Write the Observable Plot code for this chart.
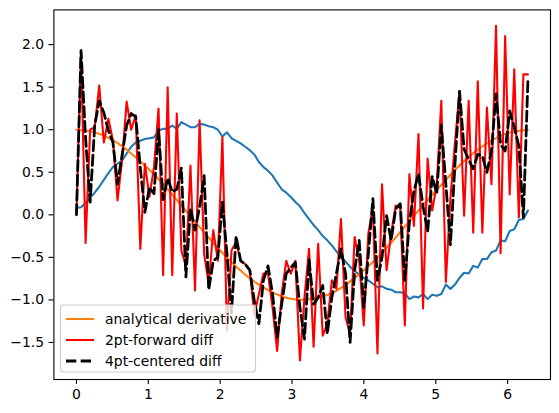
<!DOCTYPE html>
<html><head><meta charset="utf-8">
<script src="https://cdn.jsdelivr.net/npm/d3@7"></script>
<script src="https://cdn.jsdelivr.net/npm/@observablehq/plot@0.6"></script>
<style>body{margin:0;background:#fff} svg{display:block}</style>
</head><body><div id="chart"></div>
<script>
// sample grid: 100 points from 0 to 2π
const N = 100;
const X_MAX = 2 * Math.PI;

// noisy signal (blue)
const signal = [0.08,0.09,0.14,0.2,0.26,0.33,0.41,0.49,0.56,0.6,
0.64,0.72,0.8,0.85,0.87,0.89,0.9,0.91,0.99,1.01,
1.01,1.05,1.01,1.09,1.06,1.03,1.03,1.07,1.06,1.04,
1.03,1.0,0.92,0.97,0.9,0.87,0.84,0.8,0.76,0.71,
0.62,0.56,0.52,0.46,0.38,0.3,0.26,0.21,0.15,0.1,
0.02,-0.05,-0.12,-0.18,-0.25,-0.3,-0.36,-0.43,-0.49,-0.55,
-0.61,-0.66,-0.7,-0.74,-0.77,-0.81,-0.85,-0.84,-0.87,-0.88,
-0.91,-0.91,-0.92,-0.99,-0.96,-0.97,-0.93,-0.99,-0.94,-0.95,
-0.93,-0.82,-0.87,-0.82,-0.74,-0.68,-0.69,-0.6,-0.62,-0.52,
-0.52,-0.44,-0.42,-0.3,-0.31,-0.19,-0.17,-0.06,-0.05,0.05];

// 2pt forward difference (red)
const forward2 = [0.02,1.92,-0.33,1.0,1.03,1.52,0.85,1.13,0.87,0.17,
0.64,1.33,1.0,1.17,-0.4,0.6,0.21,0.56,1.25,-0.71,
1.5,-0.71,1.19,-0.42,-0.6,0.58,-0.89,1.11,-0.46,-0.81,
-0.18,-0.54,0.91,-1.36,-0.42,-0.32,-0.54,-0.58,-0.65,-1.18,
-0.93,-0.69,-0.69,-1.09,-1.6,-0.93,-0.54,-0.69,-0.54,-1.71,
-0.97,-0.4,-1.55,-0.34,-1.42,-1.28,-0.77,-0.87,-0.05,-1.2,
-1.4,-0.26,-0.54,-1.3,-0.22,0.09,-1.63,0.36,-0.65,-0.22,
0.11,0.09,-1.3,0.48,-0.13,0.95,-1.1,0.66,0.05,0.35,
1.34,-0.79,0.2,0.85,1.45,-0.01,1.34,-0.21,1.57,-0.21,
1.26,0.36,2.22,-0.45,2.1,0.24,1.71,-0.03,1.65,1.65];

// 4pt centered difference (black dashed)
const centered4 = [0.0,1.93,0.9,0.15,1.05,1.34,1.2,0.99,0.85,0.36,
0.7,1.05,1.19,1.15,0.55,0.03,0.32,0.25,1.0,0.18,
0.43,0.27,0.3,0.55,-0.73,0.08,-0.18,0.09,0.46,-0.88,
-0.54,-0.5,0.15,-0.46,-1.15,-0.25,-0.54,-0.58,-0.65,-1.01,
-1.28,-0.77,-0.6,-0.93,-1.44,-1.05,-0.69,-0.62,-0.56,-1.09,
-1.46,-0.53,-1.05,-0.97,-0.83,-1.4,-0.97,-0.69,-0.4,-0.69,
-1.5,-0.65,-0.3,-1.09,-0.46,0.19,-0.77,-0.5,-0.01,-0.3,
0.07,0.13,-0.77,-0.09,0.28,0.48,0.1,-0.2,0.45,0.25,
1.05,0.36,-0.35,0.6,1.45,0.77,0.65,0.54,0.71,0.69,
0.5,0.75,1.42,0.83,0.75,1.22,1.03,0.81,-0.03,1.6];

// analytical derivative (orange)
const analyticX = [0,0.25,0.5,0.75,1.0,1.25,1.5,1.75,2.0,2.25,2.5,2.75,3.0,3.25,3.5,3.75,4.0,4.25,4.5,4.75,5.0,5.25,5.5,5.75,6.0,6.28];
const analyticY = [1.0,0.97,0.88,0.73,0.54,0.32,0.07,-0.18,-0.42,-0.63,-0.8,-0.92,-0.99,-0.99,-0.94,-0.82,-0.65,-0.45,-0.21,0.04,0.28,0.51,0.71,0.86,0.96,1.0];

const xTicks = [0,1,2,3,4,5,6];
const yTicks = [-1.5,-1.0,-0.5,0.0,0.5,1.0,1.5,2.0];
const legendLabels = ["analytical derivative","2pt-forward diff","4pt-centered diff"];
const colors = {signal:"#1f77b4", analytic:"#ff7f0e", forward:"#ff0000", centered:"#000000"};

const LW = 2.08;          // 1.5pt at 100 dpi
const LW_DASH = 2.78;     // 2pt
const DASH = "10.3,4.4";

const xs = d3.range(N).map(i => i * X_MAX / (N - 1));
const toRows = ys => ys.map((y, i) => ({x: xs[i], y}));
const analyticRows = analyticX.map((x, i) => ({x, y: analyticY[i]}));

const plot = Plot.plot({
  width: 559, height: 413,
  marginLeft: 53.4, marginRight: 9, marginTop: 9.4, marginBottom: 34,
  x: {domain: [-0.314, 6.597]},
  y: {domain: [-1.935, 2.408]},
  style: {fontFamily: "DejaVu Sans", fontSize: "13.9px", color: "black", background: "white"},
  marks: [
    Plot.line(toRows(signal), {x: "x", y: "y", stroke: colors.signal, strokeWidth: LW, strokeLinejoin: "round"}),
    Plot.line(analyticRows, {x: "x", y: "y", stroke: colors.analytic, strokeWidth: LW, curve: "natural"}),
    Plot.line(toRows(forward2), {x: "x", y: "y", stroke: colors.forward, strokeWidth: LW, strokeLinejoin: "round"}),
    Plot.line(toRows(centered4), {x: "x", y: "y", stroke: colors.centered, strokeWidth: LW_DASH, strokeDasharray: DASH, strokeLinejoin: "round"}),
    Plot.frame({stroke: "black", strokeWidth: 1.1}),
    Plot.axisX({ticks: xTicks, tickFormat: d => String(d), tickSize: 4.9, tickPadding: 4.9, strokeWidth: 1.1, label: null, fontSize: 13.9}),
    Plot.axisY({ticks: yTicks, tickFormat: d => d.toFixed(1).replace("-", "\u2212"), tickSize: 4.9, tickPadding: 4.9, strokeWidth: 1.1, label: null, fontSize: 13.9})
  ]
});
document.getElementById("chart").appendChild(plot);

// legend (lower left, matplotlib style)
const svg = d3.select(plot);
const lg = svg.append("g").attr("font-family", "DejaVu Sans").attr("font-size", "13.9px").attr("text-anchor", "start");
lg.append("rect").attr("x", 60.5).attr("y", 305).attr("width", 195).attr("height", 67)
  .attr("rx", 3).attr("fill", "white").attr("fill-opacity", 0.8).attr("stroke", "#cccccc").attr("stroke-width", 1.1);
const items = [
  {label: legendLabels[0], color: colors.analytic, w: LW, dash: null},
  {label: legendLabels[1], color: colors.forward, w: LW, dash: null},
  {label: legendLabels[2], color: colors.centered, w: LW_DASH, dash: DASH}
];
items.forEach((it, k) => {
  const y = 319 + k * 21;
  const ln = lg.append("line").attr("x1", 66).attr("x2", 94).attr("y1", y).attr("y2", y)
    .attr("stroke", it.color).attr("stroke-width", it.w);
  if (it.dash) ln.attr("stroke-dasharray", it.dash);
  lg.append("text").attr("x", 105).attr("y", y).attr("dy", "0.35em").attr("fill", "black").attr("text-anchor", "start").text(it.label);
});
</script></body></html>
